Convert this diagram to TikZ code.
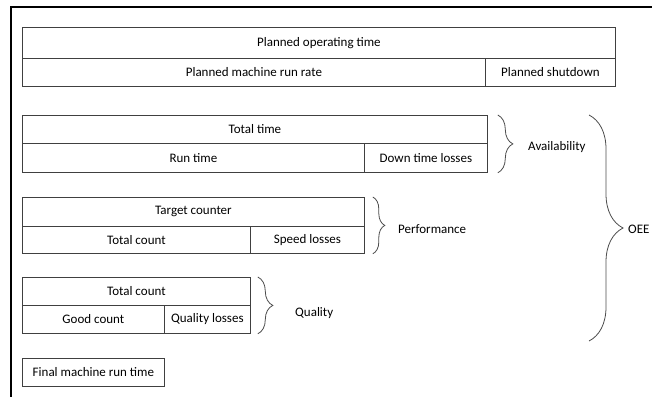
\documentclass[tikz,border=0pt]{standalone}
\usepackage{fontspec}
\setmainfont{Carlito}
\usetikzlibrary{decorations.pathreplacing,calc}

\begin{document}
\begin{tikzpicture}[x=1pt,y=-1pt,
  every node/.style={font=\fontsize{13}{15}\selectfont},
  cell/.style={draw=black!75,line width=.8pt,anchor=north west,inner sep=0pt},
  brace/.style={draw=black!70,line width=.8pt,decorate,decoration={brace,amplitude=#1}},
  lbl/.style={anchor=west,inner sep=0pt}]
\clip (0,0) rectangle (652,396);
\draw[line width=2.5pt] (11,400)--(11,7)--(660,7);
% planned time
\node[cell,minimum width=593,minimum height=31] (pot) at (22,27) {Planned operating time};
\node[cell,minimum width=463,minimum height=28] (pmr) at (22,58) {Planned machine run rate};
\node[cell,minimum width=130,minimum height=28] (psd) at (485,58) {Planned shutdown};
% availability
\node[cell,minimum width=465,minimum height=28] (tt) at (22,115) {Total time};
\node[cell,minimum width=342,minimum height=29] (rt) at (22,143) {Run time};
\node[cell,minimum width=123,minimum height=29] (dtl) at (364,143) {Down time losses};
% performance
\node[cell,minimum width=342,minimum height=29] (tc) at (22,197) {Target counter};
\node[cell,minimum width=228,minimum height=27] (tcnt) at (22,226) {Total count};
\node[cell,minimum width=114,minimum height=27] (sl) at (250,226) {Speed losses};
% quality
\node[cell,minimum width=228,minimum height=28] (tcq) at (22,277) {Total count};
\node[cell,minimum width=142,minimum height=28] (gc) at (22,305) {Good count};
\node[cell,minimum width=86,minimum height=28] (ql) at (164,305) {Quality losses};
\node[cell,minimum width=142,minimum height=28] (fmr) at (22,358) {Final machine run time};
% braces
\draw[brace=15pt] ([xshift=10pt]tt.north east)--([xshift=10pt]dtl.south east);
\draw[brace=12pt] ([xshift=8pt]tc.north east)--([xshift=8pt]sl.south east);
\draw[brace=15pt] ([xshift=7pt]tcq.north east)--([xshift=7pt]ql.south east);
\coordinate (oet) at (589,115);
\coordinate (oeb) at (589,341);
\draw[brace=34pt] (oet)--(oeb);
\node[lbl] (av) at (528,147) {Availability};
\node[lbl] (pf) at (398,229) {Performance};
\node[lbl] (qu) at (295,313) {Quality};
\node[lbl] (oee) at (628,229) {OEE};
\end{tikzpicture}
\end{document}
